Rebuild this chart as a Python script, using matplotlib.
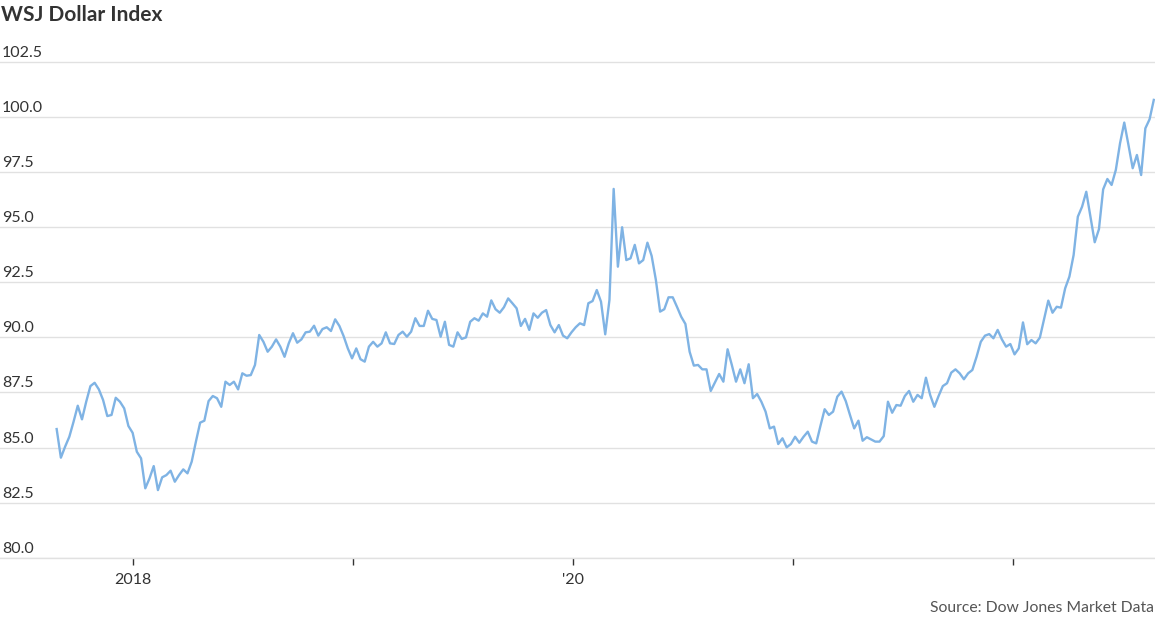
import pandas as pd
import matplotlib
matplotlib.use('Agg')
import matplotlib.pyplot as plt

plt.rcParams['font.family'] = ['Lato', 'DejaVu Sans']

# weekly WSJ Dollar Index readings, starting late Aug 2017
start_date = '2017-08-28'
index_values = [
    85.84, 84.54, 85.04, 85.49, 86.17, 86.90, 86.28, 87.08, 87.79, 87.94,
    87.64, 87.16, 86.43, 86.48, 87.26, 87.08, 86.78, 85.98, 85.67, 84.81,
    84.51, 83.15, 83.60, 84.16, 83.07, 83.65, 83.75, 83.95, 83.45, 83.75,
    84.01, 83.83, 84.36, 85.27, 86.13, 86.22, 87.11, 87.34, 87.24, 86.85,
    87.99, 87.84, 87.99, 87.64, 88.37, 88.26, 88.29, 88.75,
    90.11, 89.80, 89.35, 89.58, 89.91, 89.58, 89.12, 89.73, 90.19, 89.76,
    89.91, 90.23, 90.26, 90.53, 90.08, 90.38, 90.46, 90.29, 90.82, 90.52,
    90.06, 89.50, 89.05, 89.50, 89.01, 88.90, 89.58, 89.80, 89.58, 89.73,
    90.23, 89.73, 89.70, 90.11, 90.26, 90.03, 90.26, 90.87, 90.52, 90.52,
    91.21, 90.84, 90.79, 90.03, 90.71, 89.66, 89.58, 90.23, 89.93, 90.00,
    90.71, 90.87, 90.76, 91.09, 90.94, 91.68, 91.28,
    91.12, 91.37, 91.77, 91.55, 91.32, 90.52, 90.84, 90.34, 91.09, 90.89,
    91.12, 91.24, 90.56, 90.23, 90.56, 90.08, 89.96, 90.23, 90.46, 90.64,
    90.56, 91.55, 91.65, 92.15, 91.62, 90.14, 91.70, 96.74, 93.21, 95.00,
    93.51, 93.59, 94.20, 93.36, 93.51, 94.30, 93.70, 92.61, 91.17, 91.28,
    91.82, 91.82, 91.39, 90.94, 90.61,
    89.35, 88.72, 88.75, 88.55, 88.55, 87.57, 87.96, 88.34, 87.99, 89.46,
    88.75, 87.99, 88.55, 87.92, 88.78, 87.24, 87.43, 87.08, 86.63, 85.87,
    85.95, 85.16, 85.42, 85.01, 85.16, 85.49, 85.22, 85.49, 85.72, 85.27,
    85.19, 85.98, 86.74, 86.48, 86.63, 87.31, 87.54, 87.11, 86.48, 85.87,
    86.22, 85.31, 85.47, 85.37, 85.27, 85.27, 85.52, 87.08, 86.58, 86.93,
    86.90, 87.34, 87.57, 87.08, 87.39, 87.24, 88.17, 87.39, 86.85, 87.34,
    87.79, 87.92, 88.40, 88.55, 88.37, 88.10, 88.37, 88.52, 89.12, 89.80,
    90.08, 90.15, 89.96, 90.34,
    89.91, 89.58, 89.70, 89.23, 89.50, 90.68, 89.69, 89.88, 89.73, 89.99,
    90.82, 91.67, 91.12, 91.39, 91.35, 92.23, 92.76, 93.74, 95.48, 95.93,
    96.61, 95.48, 94.32, 94.91, 96.72, 97.19, 96.92, 97.60, 98.81, 99.75,
    98.73, 97.68, 98.28, 97.37, 99.49, 99.90, 100.78,
]

tick_years = [2018, 2019, 2020, 2021, 2022]
tick_labels = ['2018', '', "'20", '', '']
y_ticks = [80.0, 82.5, 85.0, 87.5, 90.0, 92.5, 95.0, 97.5, 100.0, 102.5]

dates = pd.date_range(start_date, periods=len(index_values), freq='7D')

text_color = '#333333'
grid_color = '#e1e1e1'

fig = plt.figure(figsize=(11.55, 6.21), dpi=100)
ax = fig.add_axes([0.0, 0.1019, 1.0, 0.8018])

ax.plot(dates, index_values, color='#7fb3e4', lw=1.7, solid_joinstyle='round')

ax.set_xlim(pd.Timestamp('2017-05-26'), pd.Timestamp('2022-08-24'))
ax.set_ylim(80, 102.6)

# horizontal grid only
ax.set_yticks(y_ticks)
ax.yaxis.grid(True, color=grid_color, lw=1)
ax.set_axisbelow(True)
ax.tick_params(axis='y', length=0, labelleft=False)
for side in ['top', 'right', 'left']:
    ax.spines[side].set_visible(False)
ax.spines['bottom'].set_color(grid_color)
ax.spines['bottom'].set_linewidth(1)

# y labels sit above their gridlines
for v in y_ticks:
    ax.annotate(f'{v:.1f}', xy=(0, v), xycoords=('axes fraction', 'data'),
                xytext=(2, 5), textcoords='offset pixels',
                ha='left', va='baseline', fontsize=11.5, color=text_color)

ax.set_xticks([pd.Timestamp(f'{y}-01-01') for y in tick_years])
ax.set_xticklabels(tick_labels)
ax.tick_params(axis='x', length=5, width=1, color=text_color, pad=6,
               labelsize=11.5, labelcolor=text_color)

fig.text(1 / 1155, 1 - 21 / 621, 'WSJ Dollar Index', ha='left', va='baseline',
         fontsize=15, fontweight='bold', color=text_color)
fig.text(1 - 1 / 1155, 1 - 612 / 621, 'Source: Dow Jones Market Data',
         ha='right', va='baseline', fontsize=11.3, color='#555555')

fig.savefig('out.png', dpi=100)
